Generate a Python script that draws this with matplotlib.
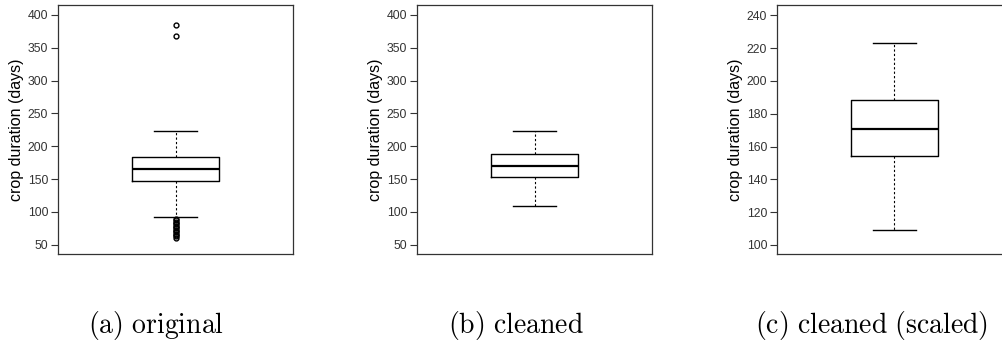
import numpy as np
import matplotlib.pyplot as plt

plt.rcParams['font.family'] = 'Liberation Sans'
plt.rcParams['mathtext.fontset'] = 'cm'

# box statistics
panels = ["original", "cleaned", "cleaned (scaled)"]
letters = ["a", "b", "c"]
q1 = [147.4, 153.5, 154.4]
med = [165.7, 170.7, 170.6]
q3 = [184.0, 187.5, 188.3]
whislo = [92.5, 109.0, 109.0]
whishi = [223.0, 223.0, 223.0]
fliers_a = [384, 368, 89, 87, 85, 83, 81, 79, 77, 75, 73, 71, 69, 67, 65, 63, 61]
ylims = [(36, 415), (36, 415), (94.5, 246.3)]
yticks = [np.arange(50, 401, 50), np.arange(50, 401, 50), np.arange(100, 241, 20)]
fliers = [fliers_a, [], []]

fig = plt.figure(figsize=(10.03, 3.45), dpi=100)
W, H = 1003, 345
lefts = [58, 417, 777]
ax_w, top, bot = 235, 5, 254
cap_x = [88, 448, 755]

for i in range(3):
    ax = fig.add_axes([lefts[i] / W, 1 - bot / H, ax_w / W, (bot - top) / H])
    stats = [dict(med=med[i], q1=q1[i], q3=q3[i], whislo=whislo[i],
                  whishi=whishi[i], fliers=fliers[i])]
    ax.bxp(stats, positions=[1], widths=0.37, showfliers=True,
           boxprops=dict(color='black', linewidth=1.0),
           medianprops=dict(color='black', linewidth=1.6),
           whiskerprops=dict(color='black', linewidth=0.8, linestyle=(0, (2, 2))),
           capprops=dict(color='black', linewidth=1.0),
           capwidths=0.185,
           flierprops=dict(marker='o', markersize=3.5, markerfacecolor='none',
                           markeredgecolor='black', markeredgewidth=1.0))
    ax.set_xlim(0.5, 1.5)
    ax.set_ylim(*ylims[i])
    ax.set_yticks(yticks[i])
    ax.set_xticks([])
    ax.tick_params(axis='y', labelsize=8.8, length=5, width=0.8, pad=2,
                   colors='#333333')
    for s in ax.spines.values():
        s.set_linewidth(0.9)
        s.set_color('#333333')
    ax.set_ylabel("crop duration (days)", fontsize=11.5, labelpad=3)
    fig.text(cap_x[i] / W, 1 - 326 / H,
             r"$\mathrm{(%s)\ %s}$" % (letters[i], panels[i].replace(" ", r"\ ")),
             ha='left', va='center', fontsize=20)

fig.savefig("out.png", dpi=100)
